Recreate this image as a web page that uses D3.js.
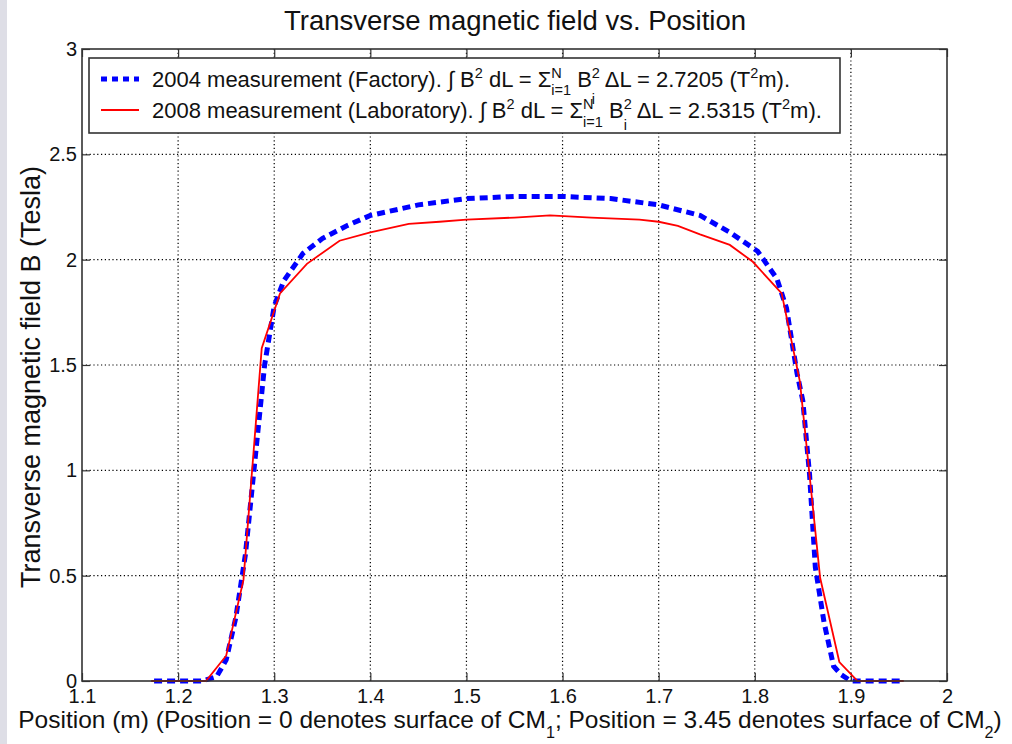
<!DOCTYPE html>
<html lang="en">
<head>
<meta charset="UTF-8">
<title>Transverse magnetic field vs. Position</title>
<script src="https://d3js.org/d3.v7.min.js"></script>
<style>
  body { margin: 0; background: #fff; font-family: Arial, 'Liberation Sans', Helvetica, sans-serif; }
  svg { display: block; }
  text { fill: #111; white-space: pre; }
  .tick text { font-size: 20px; fill: #111; font-family: Arial, 'Liberation Sans', sans-serif; }
  .tick line, .domain { stroke: #333; }
  .grid line { stroke: #000; stroke-width: 1.2; stroke-dasharray: 1.2,2.6; }
</style>
</head>
<body>
<svg id="chart" width="1012" height="744"></svg>
<script>
// tick values
const xTicks = [1.1, 1.2, 1.3, 1.4, 1.5, 1.6, 1.7, 1.8, 1.9, 2];
const yTicks = [0, 0.5, 1, 1.5, 2, 2.5, 3];

// 2004 measurement (Factory)
const pos2004 = [1.175, 1.2, 1.225, 1.24, 1.25, 1.26, 1.27, 1.28, 1.29, 1.30, 1.31, 1.33, 1.35, 1.375, 1.40, 1.45, 1.50, 1.55, 1.60, 1.65, 1.70, 1.743, 1.774, 1.803, 1.823, 1.833, 1.844, 1.85, 1.857, 1.863, 1.872, 1.882, 1.89, 1.90, 1.93, 1.955];
const field2004 = [0, 0, 0, 0.02, 0.10, 0.30, 0.60, 1.05, 1.50, 1.78, 1.90, 2.03, 2.10, 2.16, 2.21, 2.26, 2.29, 2.30, 2.30, 2.29, 2.26, 2.21, 2.13, 2.04, 1.91, 1.77, 1.46, 1.33, 0.98, 0.54, 0.28, 0.07, 0.03, 0, 0, 0];

// 2008 measurement (Laboratory)
const pos2008 = [1.172, 1.2, 1.229, 1.25, 1.268, 1.287, 1.306, 1.334, 1.368, 1.40, 1.44, 1.472, 1.50, 1.55, 1.587, 1.63, 1.68, 1.70, 1.72, 1.743, 1.774, 1.798, 1.828, 1.847, 1.868, 1.888, 1.907, 1.93, 1.955];
const field2008 = [0, 0, 0, 0.12, 0.48, 1.58, 1.84, 1.98, 2.09, 2.13, 2.17, 2.18, 2.19, 2.20, 2.21, 2.20, 2.19, 2.18, 2.16, 2.12, 2.07, 1.99, 1.84, 1.42, 0.49, 0.09, 0, 0, 0];

const svg = d3.select("#chart");
const pLeft = 82, pRight = 947, pTop = 49, pBottom = 681;

// grey strip at the left edge of the page
svg.append("rect").attr("x", 0).attr("y", 0).attr("width", 7).attr("height", 744).attr("fill", "#dedee6");

const x = d3.scaleLinear().domain([1.1, 2]).range([pLeft, pRight]);
const y = d3.scaleLinear().domain([0, 3]).range([pBottom, pTop]);

// grid
const grid = svg.append("g").attr("class", "grid");
grid.selectAll(".vx").data(xTicks.slice(1, -1)).enter().append("line")
    .attr("x1", d => x(d)).attr("x2", d => x(d)).attr("y1", pTop).attr("y2", pBottom);
grid.selectAll(".hy").data(yTicks.slice(1, -1)).enter().append("line")
    .attr("y1", d => y(d)).attr("y2", d => y(d)).attr("x1", pLeft).attr("x2", pRight);

// axes, ticks inward like matlab
svg.append("g").attr("transform", `translate(0,${pBottom})`)
   .call(d3.axisBottom(x).tickValues(xTicks).tickFormat(d3.format("")).tickSizeInner(-8).tickSizeOuter(0).tickPadding(8))
   .call(g => g.select(".domain").remove());
svg.append("g").attr("transform", `translate(0,${pTop})`)
   .call(d3.axisTop(x).tickValues(xTicks).tickFormat("").tickSizeInner(-8).tickSizeOuter(0))
   .call(g => g.select(".domain").remove());
svg.append("g").attr("transform", `translate(${pLeft},0)`)
   .call(d3.axisLeft(y).tickValues(yTicks).tickFormat(d3.format("")).tickSizeInner(-8).tickSizeOuter(0).tickPadding(5))
   .call(g => g.select(".domain").remove());
svg.append("g").attr("transform", `translate(${pRight},0)`)
   .call(d3.axisRight(y).tickValues(yTicks).tickFormat("").tickSizeInner(-8).tickSizeOuter(0))
   .call(g => g.select(".domain").remove());
svg.selectAll(".tick line").attr("stroke", "#333").attr("stroke-width", 1.2);

// curves
const line = (xs, ys) => d3.line().x((d, i) => x(xs[i])).y((d, i) => y(ys[i]))(ys);

svg.append("path").attr("d", line(pos2004, field2004))
   .attr("fill", "none").attr("stroke", "#0000ff").attr("stroke-width", 5).attr("stroke-dasharray", "8,5");
svg.append("path").attr("d", line(pos2008, field2008))
   .attr("fill", "none").attr("stroke", "#ff0000").attr("stroke-width", 1.8);

// box
svg.append("rect").attr("x", pLeft).attr("y", pTop).attr("width", pRight - pLeft).attr("height", pBottom - pTop)
   .attr("fill", "none").attr("stroke", "#333").attr("stroke-width", 1.6);

// text made of pieces (super/subscripts); a "hold" piece is stacked over the next one
function rich(g, x0, y0, parts, fs) {
    let cx = x0, held = 0;
    parts.forEach(p => {
        const size = p.s ? fs * 0.66 : fs;
        const t = g.append("text").attr("x", cx).attr("y", y0 + (p.dy || 0))
                   .attr("xml:space", "preserve")
                   .style("font-size", size + "px").text(p.t);
        const w = t.node().getComputedTextLength();
        if (p.hold) { held = w; }
        else { cx += Math.max(w, held); held = 0; }
    });
    return cx - x0;
}

// legend
const lg = svg.append("g");
lg.append("rect").attr("x", 89).attr("y", 58).attr("width", 751).attr("height", 75)
  .attr("fill", "#fff").attr("stroke", "#333").attr("stroke-width", 1.6);
lg.append("line").attr("x1", 101).attr("x2", 139).attr("y1", 79).attr("y2", 79)
  .attr("stroke", "#0000ff").attr("stroke-width", 5).attr("stroke-dasharray", "6,5");
lg.append("line").attr("x1", 101).attr("x2", 139).attr("y1", 110).attr("y2", 110)
  .attr("stroke", "#ff0000").attr("stroke-width", 1.8);

const lfs = 22;
rich(lg, 152, 87, [
    {t: "2004 measurement (Factory). \u222B B"}, {t: "2", s: 1, dy: -9},
    {t: " dL = \u03A3"}, {t: "N", s: 1, dy: -9, hold: true}, {t: "i=1", s: 1, dy: 8},
    {t: " B"}, {t: "2", s: 1, dy: -9, hold: true}, {t: "i", s: 1, dy: 17},
    {t: " \u0394L = 2.7205 (T"}, {t: "2", s: 1, dy: -9}, {t: "m)."}
], lfs);
rich(lg, 152, 118, [
    {t: "2008 measurement (Laboratory). \u222B B"}, {t: "2", s: 1, dy: -9},
    {t: " dL = \u03A3"}, {t: "N", s: 1, dy: -9, hold: true}, {t: "i=1", s: 1, dy: 9},
    {t: " B"}, {t: "2", s: 1, dy: -9, hold: true}, {t: "i", s: 1, dy: 12},
    {t: " \u0394L = 2.5315 (T"}, {t: "2", s: 1, dy: -9}, {t: "m)."}
], lfs);

// title
svg.append("text").attr("x", 515).attr("y", 30).attr("text-anchor", "middle")
   .style("font-size", "27.5px").text("Transverse magnetic field vs. Position");

// y label
svg.append("text").attr("transform", "translate(40,377) rotate(-90)").attr("text-anchor", "middle")
   .style("font-size", "27px").text("Transverse magnetic field B (Tesla)");

// x label with subscripts
const xl = svg.append("g");
const xfs = 24.5;
const xw = rich(xl, 0, 728, [
    {t: "Position (m) (Position = 0 denotes surface of CM"}, {t: "1", s: 1, dy: 10},
    {t: "; Position = 3.45 denotes surface of CM"}, {t: "2", s: 1, dy: 10}, {t: ")"}
], xfs);
xl.attr("transform", `translate(${510 - xw / 2},0)`);
</script>
</body>
</html>
